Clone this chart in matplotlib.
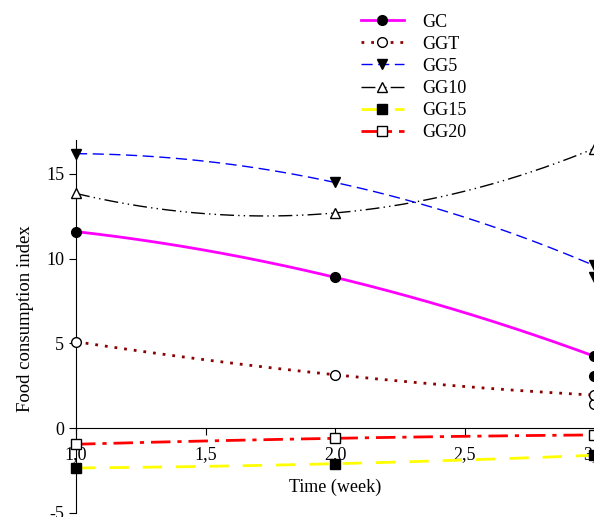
import numpy as np
import matplotlib
matplotlib.use("Agg")
import matplotlib.pyplot as plt

plt.rcParams['font.family'] = ['Liberation Serif', 'DejaVu Serif']

weeks = [1.0, 2.0, 3.0]
gc = [11.6, 8.9, 4.25]
ggt = [5.1, 3.15, 1.95]
gg5 = [16.2, 14.5, 9.6]
gg10 = [13.85, 12.7, 16.5]
gg15 = [-2.35, -2.1, -1.6]
gg20 = [-0.95, -0.6, -0.4]
# second reading at week 3 (markers only)
gc_b = 3.1
ggt_b = 1.4
gg5_b = 8.95

series = [
    ("GC", gc, dict(color="magenta", ls="-", lw=2, marker="o", mfc="black", mec="black")),
    ("GGT", ggt, dict(color="#8b0000", ls=(0, (1, 2.5)), lw=2, marker="o", mfc="white", mec="black")),
    ("GG5", gg5, dict(color="blue", ls=(0, (8, 4)), lw=1, marker="v", mfc="black", mec="black")),
    ("GG10", gg10, dict(color="black", ls=(0, (10, 3, 1, 3, 1, 3)), lw=1, marker="^", mfc="white", mec="black")),
    ("GG15", gg15, dict(color="yellow", ls=(0, (7, 5)), lw=2, marker="s", mfc="black", mec="black")),
    ("GG20", gg20, dict(color="red", ls=(0, (7, 2.5, 1.5, 2.5)), lw=2, marker="s", mfc="white", mec="black")),
]

fig = plt.figure(figsize=(5.94, 5.17), dpi=100)
ax = fig.add_axes([0.128, 0.008, 0.872, 0.721])

xs = np.linspace(1, 3, 200)
handles = []
for name, vals, st in series:
    coef = np.polyfit(weeks, vals, 2)
    ax.plot(xs, np.polyval(coef, xs), color=st["color"], ls=st["ls"], lw=st["lw"], clip_on=False)
    ax.plot(weeks, vals, ls="none", marker=st["marker"], ms=7, mfc=st["mfc"],
            mec=st["mec"], clip_on=False, zorder=5)
    h, = ax.plot([], [], color=st["color"], ls=st["ls"], lw=st["lw"], marker=st["marker"],
                 ms=7, mfc=st["mfc"], mec=st["mec"], label=name)
    handles.append(h)

ax.plot([3], [gc_b], ls="none", marker="o", ms=7, mfc="black", mec="black", clip_on=False)
ax.plot([3], [ggt_b], ls="none", marker="o", ms=7, mfc="white", mec="black", clip_on=False)
ax.plot([3], [gg5_b], ls="none", marker="v", ms=7, mfc="black", mec="black", clip_on=False)

ax.set_xlim(1, 3)
ax.set_ylim(-5, 17)
ax.spines['top'].set_visible(False)
ax.spines['right'].set_visible(False)
ax.spines['bottom'].set_position(('data', 0))
ax.set_xticks([1.0, 1.5, 2.0, 2.5, 3.0])
ax.set_xticklabels(["1,0", "1,5", "2,0", "2,5", "3,0"])
ax.set_yticks([-5, 0, 5, 10, 15])
ax.set_yticklabels(["-5", "0", "5", "10", "15"])
ax.tick_params(labelsize=13, direction="out", length=5)
ax.tick_params(axis="x", pad=8)
ax.set_ylabel("Food consumption index", fontsize=13.5)
ax.yaxis.set_label_coords(-0.082, 0.52)
ax.text(2.0, -3.5, "Time (week)", ha="center", va="center", fontsize=13)

fig.legend(handles=handles, loc="upper left", bbox_to_anchor=(0.58, 1.005), frameon=False,
           fontsize=13, handlelength=2.4, labelspacing=0.28, handletextpad=1.0)

fig.savefig("out.png", dpi=100)
